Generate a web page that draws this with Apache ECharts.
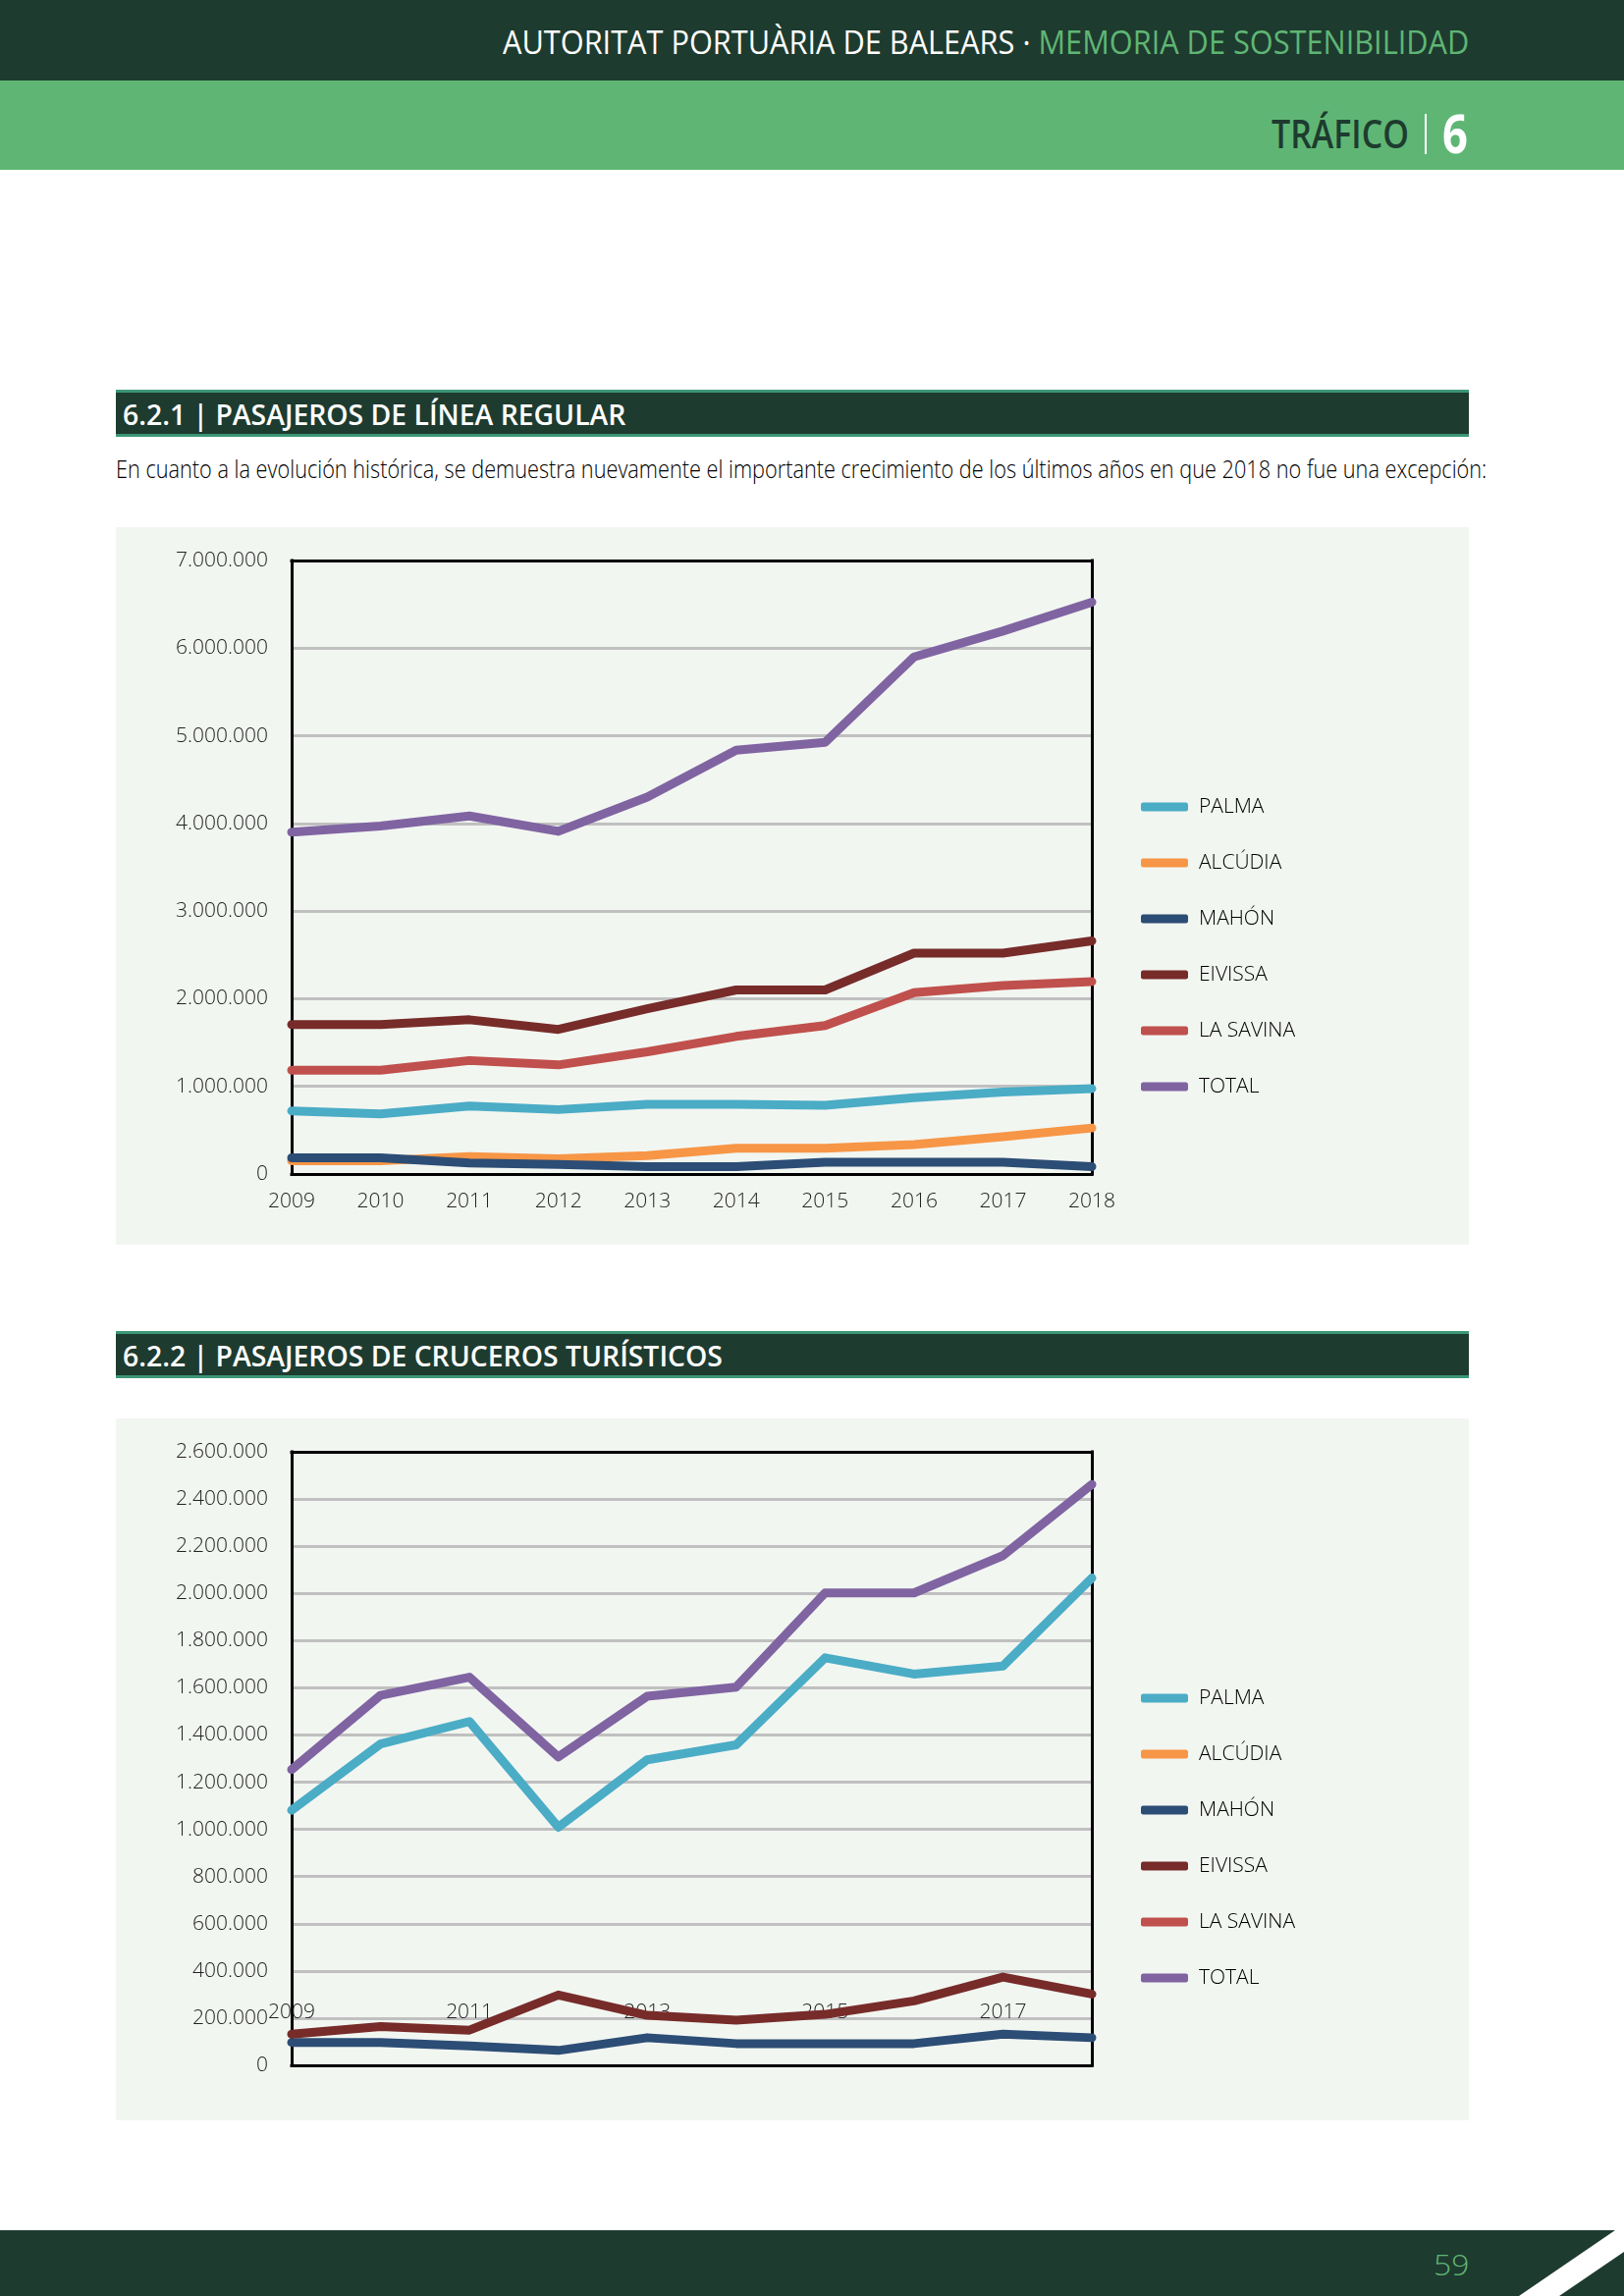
<!DOCTYPE html>
<html><head><meta charset="utf-8">
<script src="https://cdn.jsdelivr.net/npm/echarts@6/dist/echarts.min.js"></script>
<style>
html,body{margin:0;padding:0;background:#fff;}
#page{position:relative;width:1654px;height:2339px;overflow:hidden;background:#fff;font-family:'Open Sans','Noto Sans',sans-serif;}
.abs{position:absolute;white-space:nowrap;line-height:1;}
.bar{position:absolute;left:118px;width:1378px;height:48px;background:#1e3b2f;border-top:3px solid #3c9676;border-bottom:3px solid #3c9676;box-sizing:border-box;}
.panel{position:absolute;left:118px;width:1378px;background:#f2f6f1;}
</style></head><body><div id="page">
<div class="abs" style="left:0;top:0;width:1654px;height:82px;background:#1e3b2f"></div>
<div class="abs" style="left:0;top:82px;width:1654px;height:91px;background:#5fb674"></div>
<div class="abs fit" data-l="512" data-r="1496" data-cy="42" style="font-size:33px;color:#fff;font-weight:400">AUTORITAT PORTUÀRIA DE BALEARS · <span style="color:#5fb674">MEMORIA DE SOSTENIBILIDAD</span></div>
<div class="abs fit" data-l="1295" data-r="1435" data-cy="135" style="font-size:39px;color:#1e3b2f;font-weight:600">TRÁFICO</div>
<div class="abs" style="left:1451px;top:116px;width:2px;height:41px;background:#ffffff"></div>
<div class="abs fit" data-l="1469" data-r="1495" data-cy="135" style="font-size:54px;color:#fff;font-weight:700">6</div>

<div class="bar" style="top:397px"></div>
<div class="abs fit" data-l="125" data-r="637" data-cy="421" style="font-size:29px;color:#fff;font-weight:600">6.2.1 | PASAJEROS DE LÍNEA REGULAR</div>
<div class="abs fit" data-l="118" data-r="1514" data-cy="477" style="font-size:26px;color:#000;font-weight:300">En cuanto a la evolución histórica, se demuestra nuevamente el importante crecimiento de los últimos años en que 2018 no fue una excepción:</div>
<div class="panel" style="top:537px;height:731px"></div>
<div id="c1" class="abs" style="left:118px;top:537px;width:1378px;height:731px"></div>

<div class="bar" style="top:1356px"></div>
<div class="abs fit" data-l="125" data-r="736" data-cy="1380" style="font-size:29px;color:#fff;font-weight:600">6.2.2 | PASAJEROS DE CRUCEROS TURÍSTICOS</div>
<div class="panel" style="top:1445px;height:715px"></div>
<div id="c2" class="abs" style="left:118px;top:1445px;width:1378px;height:715px"></div>

<svg class="abs" style="left:0;top:2272px" width="1654" height="67" viewBox="0 0 1654 67">
<polygon points="0,0 1645,0 1547,67 0,67" fill="#1e3b2f"/>
<polygon points="1654,22 1654,67 1588,67" fill="#1e3b2f"/>
</svg>
<div class="abs fit" data-l="1460" data-r="1496" data-cy="2307" style="font-size:30px;color:#5fb674;font-weight:300">59</div>
</div>
<script>
// ---------- data ----------
const years = ['2009','2010','2011','2012','2013','2014','2015','2016','2017','2018'];
const seriesNames = ['PALMA','ALCÚDIA','MAHÓN','EIVISSA','LA SAVINA','TOTAL'];
const seriesColors = ['#4bacc6','#f79646','#2c4d75','#772c2a','#c0504d','#8064a2'];

// 6.2.1 Pasajeros de línea regular
const regPalma   = [720000, 685000, 775000, 735000, 795000, 795000, 785000, 870000, 935000, 975000];
const regAlcudia = [150000, 150000, 200000, 175000, 210000, 295000, 295000, 335000, 425000, 525000];
const regMahon   = [185000, 185000, 125000, 110000, 85000, 85000, 135000, 135000, 135000, 85000];
const regEivissa = [1705000, 1705000, 1760000, 1650000, 1885000, 2100000, 2100000, 2520000, 2520000, 2660000];
const regSavina  = [1185000, 1185000, 1295000, 1245000, 1395000, 1570000, 1695000, 2070000, 2150000, 2195000];
const regTotal   = [3900000, 3970000, 4085000, 3910000, 4300000, 4835000, 4925000, 5900000, 6195000, 6525000];
const regMax = 7000000, regInterval = 1000000;

// 6.2.2 Pasajeros de cruceros turísticos
const cruPalma   = [1081000, 1362000, 1457000, 1009000, 1295000, 1358000, 1727000, 1658000, 1692000, 2065000];
const cruAlcudia = [null, null, null, null, null, null, null, null, null, null];
const cruMahon   = [97000, 97000, 82000, 63000, 117000, 92000, 92000, 92000, 132000, 117000];
const cruEivissa = [132000, 164000, 149000, 298000, 212000, 191000, 216000, 273000, 374000, 302000];
const cruSavina  = [null, null, null, null, null, null, null, null, null, null];
const cruTotal   = [1253000, 1568000, 1645000, 1307000, 1564000, 1603000, 2002000, 2002000, 2160000, 2462000];
const cruMax = 2600000, cruInterval = 200000;

// ---------- text fitting ----------
document.querySelectorAll('.fit').forEach(el => {
  const w = el.offsetWidth, h = el.offsetHeight;
  const l = +el.dataset.l, r = +el.dataset.r, cy = +el.dataset.cy;
  el.style.left = l + 'px';
  el.style.top = (cy - h / 2) + 'px';
  el.style.transformOrigin = 'left center';
  el.style.transform = 'scaleX(' + ((r - l) / w) + ')';
});

const fmt = v => String(v).replace(/\B(?=(\d{3})+(?!\d))/g, '.');
const FONT = "'Open Sans','Noto Sans',sans-serif";
const frame = { show: true, onZero: false, lineStyle: { color: '#000', width: 3, cap: 'square' } };

function makeOption(dataSets, maxV, interval, xLabel) {
  return {
    animation: false,
    backgroundColor: 'transparent',
    color: seriesColors,
    grid: { left: 179, top: 34, width: 815, height: 625 },
    legend: {
      orient: 'vertical', left: 1044, top: 273, padding: 0,
      icon: 'roundRect', itemWidth: 48, itemHeight: 9, itemGap: 33,
      textStyle: { fontFamily: FONT, fontWeight: 300, fontSize: 21, color: '#000', lineHeight: 24, padding: [0, 0, 0, 6] },
      data: seriesNames
    },
    xAxis: [{
      type: 'category', data: years, boundaryGap: false, position: 'bottom',
      axisLine: frame, axisTick: { show: false }, splitLine: { show: false },
      axisLabel: Object.assign({ fontFamily: FONT, fontWeight: 300, fontSize: 21, color: '#222' }, xLabel)
    }, {
      type: 'category', data: years, boundaryGap: false, position: 'top',
      axisLine: frame, axisTick: { show: false }, axisLabel: { show: false }, splitLine: { show: false }
    }],
    yAxis: [{
      type: 'value', min: 0, max: maxV, interval: interval, position: 'left',
      axisLine: frame, axisTick: { show: false },
      splitLine: { show: true, lineStyle: { color: '#c0c0c0', width: 3 } },
      axisLabel: { fontFamily: FONT, fontWeight: 300, fontSize: 21, color: '#222', margin: 24, formatter: fmt }
    }, {
      type: 'value', min: 0, max: maxV, interval: interval, position: 'right',
      axisLine: frame, axisTick: { show: false }, axisLabel: { show: false }, splitLine: { show: false }
    }],
    series: seriesNames.map((n, i) => ({
      name: n, type: 'line', data: dataSets[i], symbol: 'none', clip: false,
      xAxisIndex: 0, yAxisIndex: 0, z: 5,
      lineStyle: { width: 9, cap: 'round', join: 'round', color: seriesColors[i] },
      itemStyle: { color: seriesColors[i] }
    }))
  };
}

const c1 = echarts.init(document.getElementById('c1'), null, { renderer: 'canvas' });
c1.setOption(makeOption([regPalma, regAlcudia, regMahon, regEivissa, regSavina, regTotal], regMax, regInterval,
  { margin: 18, interval: 0 }));

const c2 = echarts.init(document.getElementById('c2'), null, { renderer: 'canvas' });
c2.setOption(makeOption([cruPalma, cruAlcudia, cruMahon, cruEivissa, cruSavina, cruTotal], cruMax, cruInterval,
  { margin: -64, interval: 1 }));
</script>
</body></html>
